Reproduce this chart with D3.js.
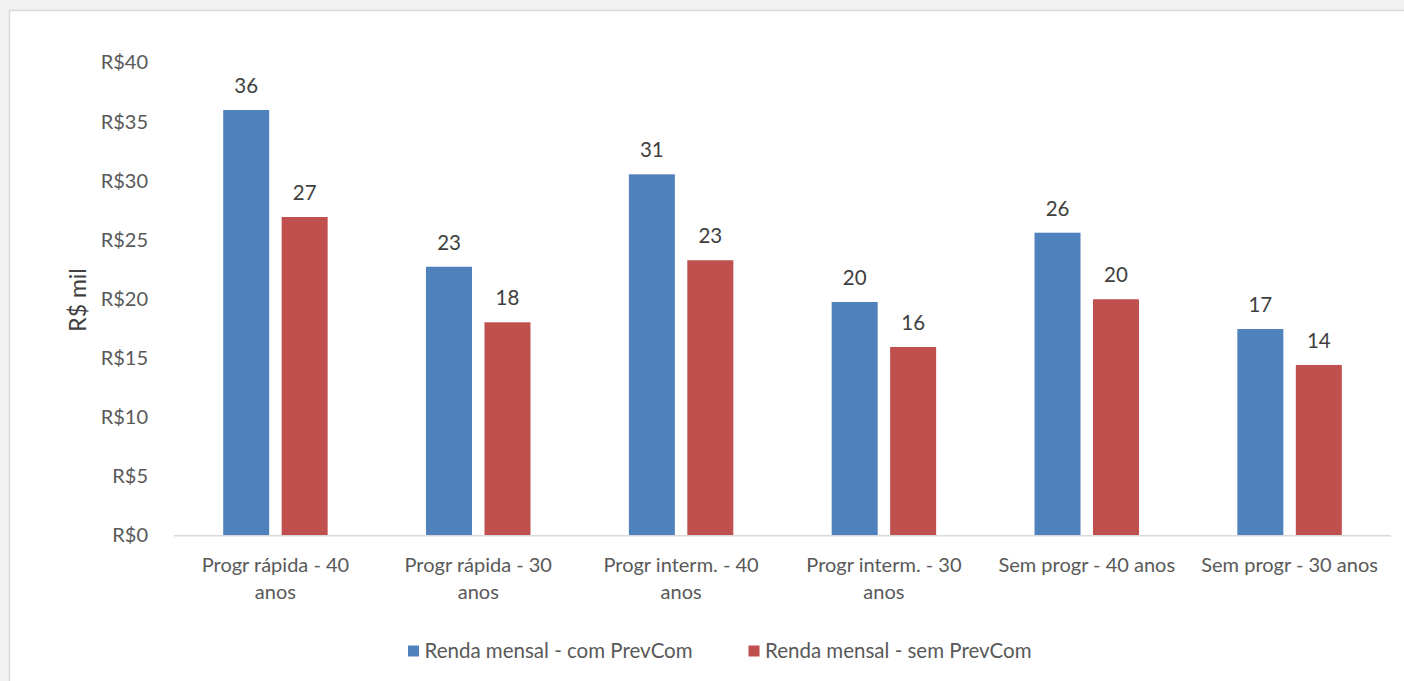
<!DOCTYPE html>
<html>
<head>
<meta charset="utf-8">
<script src="https://cdn.jsdelivr.net/npm/d3@7"></script>
<style>
  html, body { margin: 0; padding: 0; background: #ffffff; overflow: hidden; }
  svg { display: block; }
  text { font-family: Lato, "Open Sans", sans-serif; }
</style>
</head>
<body>
<svg id="chart" width="1500" height="720"></svg>
<script>
// ---- data ----
const categories = [
  "Progr rápida - 40 anos",
  "Progr rápida - 30 anos",
  "Progr interm. - 40 anos",
  "Progr interm. - 30 anos",
  "Sem progr - 40 anos",
  "Sem progr - 30 anos"
];
const seriesNames = ["Renda mensal - com PrevCom", "Renda mensal - sem PrevCom"];
const comPrevCom = [35.98, 22.72, 30.54, 19.74, 25.6, 17.45];
const semPrevCom = [26.93, 18.02, 23.27, 15.93, 19.97, 14.41];
const yTicks = [0, 5, 10, 15, 20, 25, 30, 35, 40];
const colors = ["#4f81bd", "#c0504d"];

// ---- layout ----
const svg = d3.select("#chart");
const plotLeft = 174, plotRight = 1391, plotTop = 62.5, plotBottom = 535.3;

svg.append("rect").attr("x", 0).attr("y", 0).attr("width", 1500).attr("height", 720)
  .attr("fill", "#f2f2f2");
svg.append("rect")
  .attr("x", 9.5).attr("y", 10.5)
  .attr("width", 1600).attr("height", 800)
  .attr("fill", "#ffffff").attr("stroke", "#d9d9d9").attr("stroke-width", 1.5);

const x0 = d3.scaleBand().domain(categories).range([plotLeft, plotRight])
  .paddingInner(0.485).paddingOuter(0.2425);
const x1 = d3.scaleBand().domain(seriesNames).range([0, x0.bandwidth()])
  .paddingInner(0.213);
const y = d3.scaleLinear().domain([0, 40]).range([plotBottom, plotTop]);

// y axis labels
const yAxis = d3.axisLeft(y).tickValues(yTicks).tickSize(0).tickPadding(0)
  .tickFormat(d => "R$" + d);
const gy = svg.append("g").attr("transform", `translate(148,0)`).call(yAxis);
gy.select(".domain").remove();
gy.selectAll("text")
  .attr("fill", "#595959").style("font-size", "20px")
  .style("font-family", "Lato, 'Open Sans', sans-serif");

// y title
svg.append("text")
  .attr("transform", `translate(86,300) rotate(-90)`)
  .attr("text-anchor", "middle")
  .attr("fill", "#404040").style("font-size", "23px")
  .text("R$ mil");

// bars
const data = categories.map((c, i) => ({
  cat: c,
  vals: [{s: seriesNames[0], v: comPrevCom[i]}, {s: seriesNames[1], v: semPrevCom[i]}]
}));

const groups = svg.append("g").selectAll("g").data(data).join("g")
  .attr("transform", d => `translate(${x0(d.cat)},0)`);

groups.selectAll("rect").data(d => d.vals).join("rect")
  .attr("x", d => x1(d.s))
  .attr("width", x1.bandwidth())
  .attr("y", d => y(d.v))
  .attr("height", d => y(0) - y(d.v))
  .attr("fill", (d, i) => colors[i]);

groups.selectAll("text.lbl").data(d => d.vals).join("text")
  .attr("class", "lbl")
  .attr("x", d => x1(d.s) + x1.bandwidth() / 2)
  .attr("y", d => y(d.v) - 17)
  .attr("text-anchor", "middle")
  .attr("fill", "#404040").style("font-size", "20.5px")
  .text(d => d3.format(".0f")(d.v));

// x axis line
svg.append("line")
  .attr("x1", plotLeft).attr("x2", plotRight)
  .attr("y1", y(0) + 0.5).attr("y2", y(0) + 0.5)
  .attr("stroke", "#d9d9d9").attr("stroke-width", 1.5);

// x axis labels with wrapping
const xAxis = d3.axisBottom(x0).tickSize(0).tickPadding(0);
const gx = svg.append("g").attr("transform", `translate(0,${plotBottom})`).call(xAxis);
gx.select(".domain").remove();
gx.selectAll("text").each(function(d) {
  const t = d3.select(this);
  t.text(null).attr("y", 0).attr("dy", null)
    .attr("fill", "#595959").style("font-size", "20px")
    .style("font-family", "Lato, 'Open Sans', sans-serif");
  const words = d.split(" ");
  const maxW = 186;
  let lines = [], cur = [];
  const probe = t.append("tspan");
  words.forEach(w => {
    const test = cur.concat([w]).join(" ");
    probe.text(test);
    if (probe.node().getComputedTextLength() > maxW && cur.length) {
      lines.push(cur.join(" "));
      cur = [w];
    } else cur.push(w);
  });
  lines.push(cur.join(" "));
  probe.remove();
  lines.forEach((l, i) => {
    t.append("tspan").attr("x", 0).attr("y", 36.5 + i * 27.6).text(l);
  });
});

// legend
const legend = svg.append("g");
const legX = [408, 748.5];
seriesNames.forEach((s, i) => {
  legend.append("rect")
    .attr("x", legX[i]).attr("y", 645.5).attr("width", 11).attr("height", 11)
    .attr("fill", colors[i]);
  legend.append("text")
    .attr("x", legX[i] + 16.5).attr("y", 658.3)
    .attr("fill", "#595959").style("font-size", "20.5px")
    .text(s);
});
</script>
</body>
</html>
